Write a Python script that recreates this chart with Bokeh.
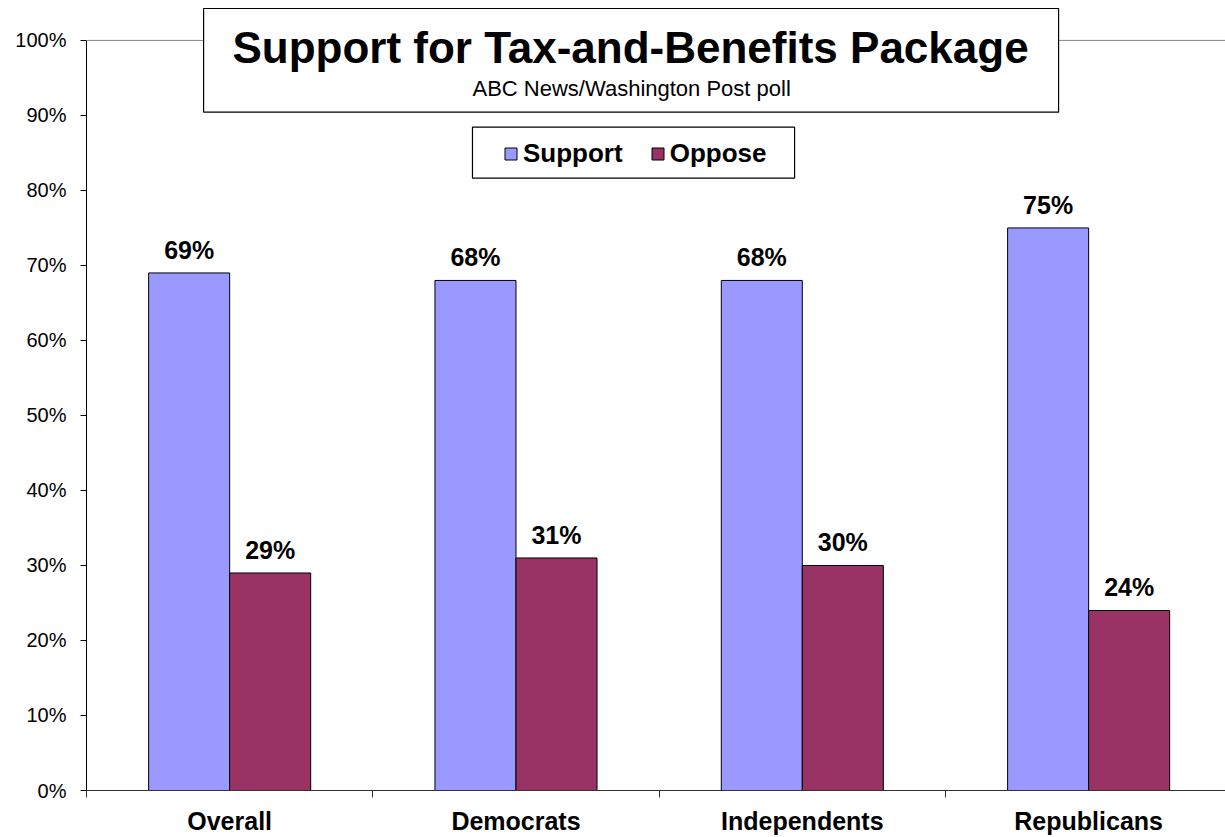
from bokeh.plotting import figure
from bokeh.models import (Range1d, FixedTicker, Span, BoxAnnotation, Label, LabelSet,
                          ColumnDataSource, Legend, LegendItem)
from bokeh.core.properties import value
from bokeh.embed import file_html
from bokeh.resources import INLINE

# ---- data ----
categories = ["Overall", "Democrats", "Independents", "Republicans"]
support = [69, 68, 68, 75]
oppose = [29, 31, 30, 24]
series_names = ["Support", "Oppose"]
y_ticks = [0, 10, 20, 30, 40, 50, 60, 70, 80, 90, 100]
y_tick_labels = ["0%", "10%", "20%", "30%", "40%", "50%", "60%", "70%", "80%", "90%", "100%"]
title_text = "Support for Tax-and-Benefits Package"
subtitle_text = "ABC News/Washington Post poll"

# ---- styles ----
FONT = "Liberation Sans"
SUPPORT_COLOR = "#9999FF"
OPPOSE_COLOR = "#993366"
BAR_W = 0.283
Y_TOP = 104.39   # headroom above 100% so the title box fits inside the frame
X_END = 3.978    # the original plot area runs slightly past the right edge

n = len(categories)
centers = [i + 0.5 for i in range(n)]
src = ColumnDataSource(dict(
    sx=[c - BAR_W / 2 for c in centers],
    ox=[c + BAR_W / 2 for c in centers],
    support=support,
    oppose=oppose,
    slab=[f"{v}%" for v in support],
    olab=[f"{v}%" for v in oppose],
))

p = figure(width=1225, height=837, output_backend="svg", toolbar_location=None,
           x_range=Range1d(0, X_END), y_range=Range1d(0, Y_TOP),
           min_border_left=86, min_border_right=0, min_border_top=7, min_border_bottom=45)
p.outline_line_color = None
p.background_fill_color = "white"
p.border_fill_color = "white"
p.xgrid.visible = False
p.ygrid.visible = False

r_sup = p.vbar(x="sx", top="support", bottom=0, width=BAR_W, source=src,
               fill_color=SUPPORT_COLOR, line_color="#000000", line_width=1)
r_opp = p.vbar(x="ox", top="oppose", bottom=0, width=BAR_W, source=src,
               fill_color=OPPOSE_COLOR, line_color="#000000", line_width=1)

# y axis
ya = p.yaxis[0]
ya.ticker = FixedTicker(ticks=y_ticks)
ya.bounds = (0, 100)
ya.major_label_overrides = dict(zip(y_ticks, y_tick_labels))
ya.minor_tick_line_color = None
ya.major_tick_out = 6
ya.major_tick_in = 0
ya.axis_line_color = "#000000"
ya.major_tick_line_color = "#000000"
ya.major_label_text_font = FONT
ya.major_label_text_font_size = "20px"
ya.major_label_text_color = "#000000"
ya.major_label_standoff = 14

# x axis
xa = p.xaxis[0]
xa.ticker = FixedTicker(ticks=centers, minor_ticks=list(range(n + 1)))
xa.major_label_overrides = dict(zip(centers, categories))
xa.major_tick_line_color = None
xa.major_tick_out = 0
xa.major_tick_in = 0
xa.minor_tick_line_color = "#333333"
xa.minor_tick_out = 7
xa.minor_tick_in = 0
xa.axis_line_color = "#333333"
xa.major_label_text_font = FONT
xa.major_label_text_font_style = "bold"
xa.major_label_text_font_size = "25px"
xa.major_label_text_color = "#000000"
xa.major_label_standoff = 9

# top gridline at 100%
p.add_layout(Span(location=100, dimension="width", line_color="#888888", line_width=1))

# value labels
for xcol, ycol, tcol in (("sx", "support", "slab"), ("ox", "oppose", "olab")):
    p.add_layout(LabelSet(x=xcol, y=ycol, text=tcol, source=src, y_offset=14,
                          text_align="center", text_baseline="alphabetic",
                          text_font=value(FONT), text_font_style="bold",
                          text_font_size="25px", text_color="#000000"))

# title box
p.add_layout(BoxAnnotation(left=0.409, right=3.395, bottom=90.43, top=104.26,
                           fill_color="white", fill_alpha=1.0,
                           line_color="#000000", line_width=1.2, line_alpha=1.0))
p.add_layout(Label(x=1.900, y=99.12, text=title_text, text_align="center",
                   text_baseline="middle", text_font=FONT, text_font_style="bold",
                   text_font_size="44px", text_color="#000000"))
p.add_layout(Label(x=1.904, y=93.55, text=subtitle_text, text_align="center",
                   text_baseline="middle", text_font=FONT,
                   text_font_size="22px", text_color="#000000"))

# legend box + legend
p.add_layout(BoxAnnotation(left=1.348, right=2.473, bottom=81.65, top=88.43,
                           fill_color="white", fill_alpha=1.0,
                           line_color="#000000", line_width=1.2, line_alpha=1.0))
legend = Legend(items=[LegendItem(label=series_names[0], renderers=[r_sup]),
                       LegendItem(label=series_names[1], renderers=[r_opp])],
                orientation="horizontal", location=(417, 621),
                border_line_color=None, background_fill_alpha=0.0,
                padding=0, margin=0, spacing=27, label_standoff=5,
                glyph_width=15, glyph_height=15, label_height=15,
                label_text_font=FONT, label_text_font_style="bold",
                label_text_font_size="26px", label_text_color="#000000")
p.add_layout(legend)

open("out.html", "w").write(file_html(p, INLINE))
